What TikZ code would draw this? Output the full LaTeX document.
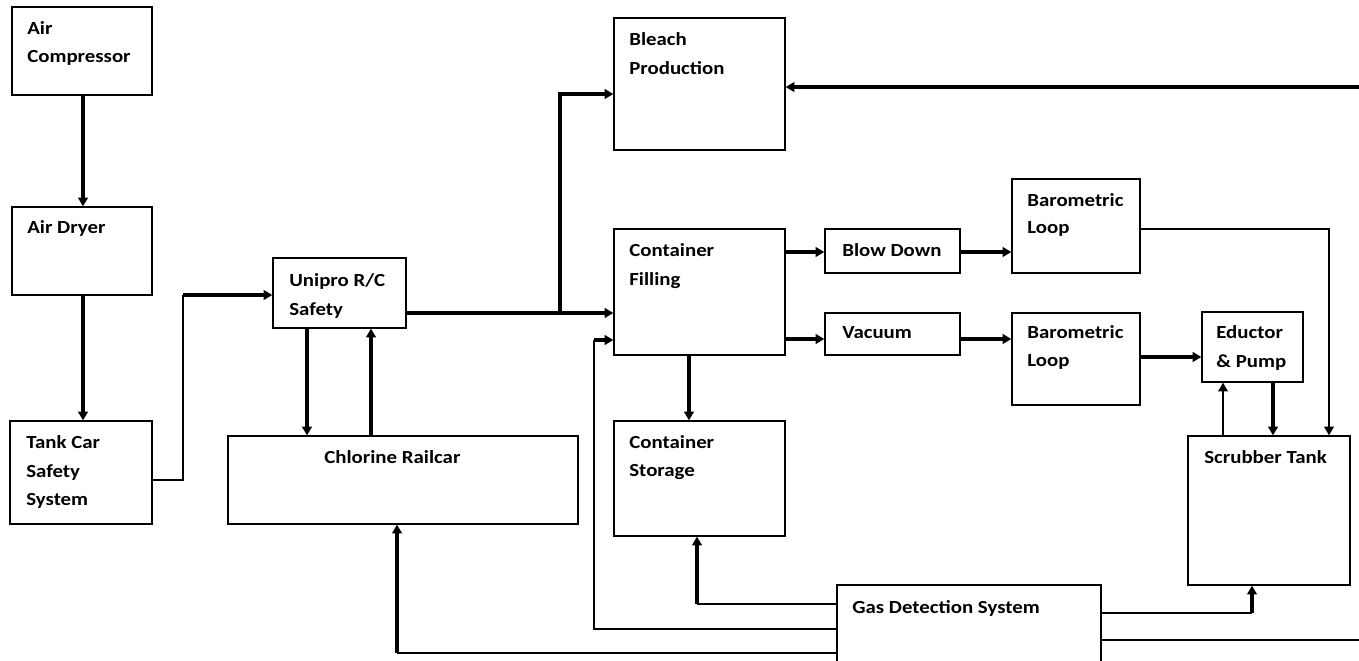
\documentclass[tikz,border=0pt]{standalone}
\usepackage{fontspec}
\setmainfont{Carlito}[FakeStretch=1.13]
\usetikzlibrary{arrows.meta,fit,calc}
\begin{document}
\begin{tikzpicture}[x=0.02cm,y=-0.02cm,
  box/.style={draw, line width=0.75pt, inner sep=0pt, rectangle},
  lbl/.style={anchor=base west, inner sep=0pt, font=\fontsize{10.5pt}{12pt}\selectfont\bfseries},
  thk/.style={line width=1.9pt},
  thn/.style={line width=0.85pt},
  arr/.style={-{Triangle[length=5pt,width=5.5pt]}}
]
\useasboundingbox (0,0) rectangle (1359,660);
% boxes
\node[box, fit={(12,7) (152,95)}] (ac) {};
\node[box, fit={(12,207) (152,295)}] (ad) {};
\node[box, fit={(10,421) (152,524)}] (tc) {};
\node[box, fit={(273,258) (406,328)}] (un) {};
\node[box, fit={(228,436) (578,524)}] (cr) {};
\node[box, fit={(614,18) (785,150)}] (bp) {};
\node[box, fit={(614,229) (785,355)}] (cf) {};
\node[box, fit={(614,421) (785,536)}] (cs) {};
\node[box, fit={(825,229) (960,273)}] (bd) {};
\node[box, fit={(1012,179) (1140,273)}] (b1) {};
\node[box, fit={(825,313) (960,355)}] (va) {};
\node[box, fit={(1012,313) (1140,405)}] (b2) {};
\node[box, fit={(1202,312) (1303,382)}] (ep) {};
\node[box, fit={(1188,436) (1350,585)}] (st) {};
\node[box, fit={(837,585) (1101,690)}] (gd) {};
% labels
\node[lbl] (acT1) at (27,34) {Air};
\node[lbl] (acT2) at (27,62) {Compressor};
\node[lbl] (adT1) at (27,233) {Air Dryer};
\node[lbl] (tcT1) at (26,448) {Tank Car};
\node[lbl] (tcT2) at (26,477) {Safety};
\node[lbl] (tcT3) at (26,505) {System};
\node[lbl] (unT1) at (289,286) {Unipro R/C};
\node[lbl] (unT2) at (289,315) {Safety};
\node[lbl] (crT1) at (324,463) {Chlorine Railcar};
\node[lbl] (bpT1) at (629,45) {Bleach};
\node[lbl] (bpT2) at (629,74) {Production};
\node[lbl] (cfT1) at (629,256) {Container};
\node[lbl] (cfT2) at (629,285) {Filling};
\node[lbl] (csT1) at (629,448) {Container};
\node[lbl] (csT2) at (629,476) {Storage};
\node[lbl] (bdT1) at (842,256) {Blow Down};
\node[lbl] (b1T1) at (1027,206) {Barometric};
\node[lbl] (b1T2) at (1027,233) {Loop};
\node[lbl] (vaT1) at (842,338) {Vacuum};
\node[lbl] (b2T1) at (1027,338) {Barometric};
\node[lbl] (b2T2) at (1027,366) {Loop};
\node[lbl] (epT1) at (1216,338) {Eductor};
\node[lbl] (epT2) at (1216,367) {\&\ Pump};
\node[lbl] (stT1) at (1204,463) {Scrubber Tank};
\node[lbl] (gdT1) at (852,613) {Gas Detection System};
% free ends and corners
\coordinate (k1) at (183,295);
\coordinate (j1) at (560,313);
\coordinate (rE1) at (1359,87);
\coordinate (rE2) at (1359,640);
% connectors
\draw[thk,arr] (ac.south -| 83,0) -- (ad.north -| 83,0);
\draw[thk,arr] (ad.south -| 83,0) -- (tc.north -| 83,0);
\draw[thn] (tc.east |- 0,480) -| (k1);
\draw[thk,arr] (k1) -- (un.west |- k1);
\draw[thk,arr] (un.south -| 307,0) -- (cr.north -| 307,0);
\draw[thk,arr] (cr.north -| 371,0) -- (un.south -| 371,0);
\draw[thk,arr] (un.east |- j1) -- (cf.west |- j1);
\draw[thk,arr] (j1) |- (bp.west |- 0,94);
\draw[thk,arr] (rE1) -- (bp.east |- rE1);
\draw[thk,arr] (cf.east |- 0,252) -- (bd.west |- 0,252);
\draw[thk,arr] (bd.east |- 0,252) -- (b1.west |- 0,252);
\draw[thn,arr] (b1.east |- 0,229) -| (st.north -| 1329,0);
\draw[thk,arr] (cf.east |- 0,339) -- (va.west |- 0,339);
\draw[thk,arr] (va.east |- 0,339) -- (b2.west |- 0,339);
\draw[thk,arr] (b2.east |- 0,357) -- (ep.west |- 0,357);
\draw[thn,arr] (st.north -| 1223,0) -- (ep.south -| 1223,0);
\draw[thk,arr] (ep.south -| 1273,0) -- (st.north -| 1273,0);
\draw[thk,arr] (cf.south -| 689,0) -- (cs.north -| 689,0);
\draw[thn] (gd.west |- 0,604) -- (697,604);
\draw[thk,arr] (697,604) -- (cs.south -| 697,0);
\draw[thn] (gd.west |- 0,629) -| (594,340);
\draw[thk,arr] (594,340) -- (cf.west |- 0,340);
\draw[thn] (gd.west |- 0,653) -- (397,653);
\draw[thk,arr] (397,653) -- (cr.south -| 397,0);
\draw[thn] (gd.east |- 0,613) -- (1252,613);
\draw[thk,arr] (1252,613) -- (st.south -| 1252,0);
\draw[thn] (gd.east |- 0,640) -- (rE2);
\end{tikzpicture}
\end{document}
